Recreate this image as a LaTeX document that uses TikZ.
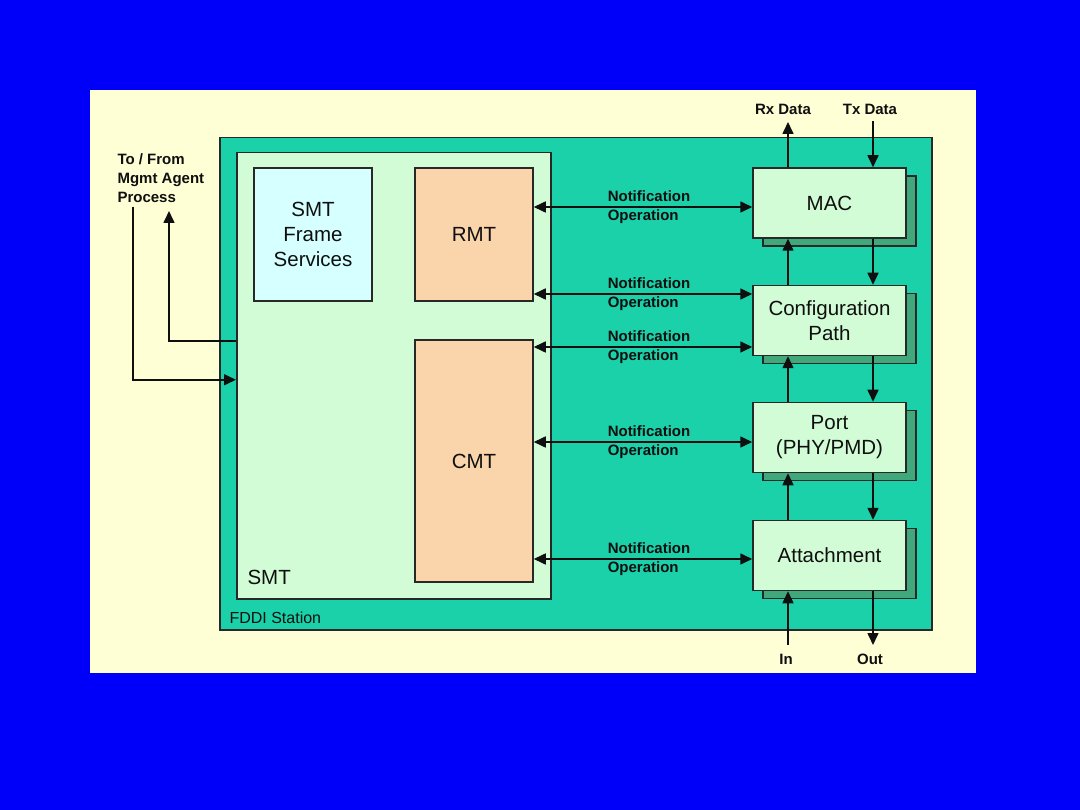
\documentclass[tikz,border=0pt]{standalone}
\usepackage{fontspec}
\setmainfont{Liberation Sans}
\usetikzlibrary{arrows.meta,calc,shadows}
\definecolor{slideblue}{RGB}{0,0,250}
\definecolor{panel}{RGB}{255,255,214}
\definecolor{station}{RGB}{26,209,169}
\definecolor{smtgreen}{RGB}{210,252,214}
\definecolor{sfscyan}{RGB}{214,255,255}
\definecolor{peach}{RGB}{250,212,170}
\definecolor{shadowgreen}{RGB}{64,168,122}
\definecolor{edge}{RGB}{40,40,40}
\definecolor{ink}{RGB}{15,15,15}
\newcommand{\boxfont}{\fontsize{20.5}{25}\selectfont}
\newcommand{\lblfont}{\fontsize{15}{19}\selectfont\bfseries}

\begin{document}
\begin{tikzpicture}[x=1pt,y=-1pt,
    block/.style={draw=edge, line width=1.5pt, font=\boxfont, align=center, inner sep=0pt, text=ink},
    shadowbox/.style={block, fill=smtgreen, minimum width=153pt, minimum height=70pt,
        general shadow={shadow xshift=10pt, shadow yshift=-8pt, fill=shadowgreen, draw=edge, line width=1.5pt}},
    wire/.style={draw=ink, line width=1.6pt},
    arr/.style={wire, -{Triangle[length=12pt,width=11pt]}},
    biarr/.style={wire, {Triangle[length=12pt,width=11pt]}-{Triangle[length=12pt,width=11pt]}},
    note/.style={font=\lblfont, align=left, xshift=6pt, text=ink}]
    % Background
    \fill[slideblue] (0,0) rectangle (1080,810);
    \fill[panel] (90,90) rectangle (976,673);

    % FDDI station and SMT
    \node[block, fill=station, minimum width=712pt, minimum height=492pt, anchor=north west] (fddi) at (219,137) {};
    \node[font=\fontsize{16}{19}\selectfont, anchor=west, text=ink] (fddilbl) at (226,618) {FDDI Station};
    \node[block, fill=smtgreen, minimum width=314pt, minimum height=446pt, anchor=north west] (smt) at (236,152) {};
    \node[font=\boxfont, anchor=west, text=ink] (smtlbl) at (244,577) {SMT};

    % SMT parts
    \node[block, fill=sfscyan, minimum width=118pt, minimum height=133pt] (sfs) at (313,234.5) {SMT\\Frame\\Services};
    \node[block, fill=peach, minimum width=118pt, minimum height=133pt] (rmt) at (474,234.5) {RMT};
    \node[block, fill=peach, minimum width=118pt, minimum height=242pt] (cmt) at (474,461) {CMT};

    % Station blocks
    \node[shadowbox] (mac) at (829.5,203) {MAC};
    \node[shadowbox] (cfg) at (829.5,320.5) {Configuration\\Path};
    \node[shadowbox] (port) at (829.5,437.5) {Port\\(PHY/PMD)};
    \node[shadowbox] (att) at (829.5,555.5) {Attachment};

    % Data path
    \coordinate (rx) at (788,122);
    \coordinate (tx) at (873,121);
    \coordinate (in) at (788,645);
    \coordinate (out) at (873,645);
    \node[font=\lblfont, text=ink] (rxlbl) at (783,109) {Rx Data};
    \node[font=\lblfont, text=ink] (txlbl) at (870,109) {Tx Data};
    \node[font=\lblfont, text=ink] (inlbl) at (786,659) {In};
    \node[font=\lblfont, text=ink] (outlbl) at (870,659) {Out};
    \draw[arr] (mac.north -| rx) -- (rx);
    \draw[arr] (tx) -- (mac.north -| tx);
    \foreach \a/\b in {mac/cfg,cfg/port,port/att} {
        \draw[arr] (\b.north -| rx) -- (\a.south -| rx);
        \draw[arr] (\a.south -| tx) -- (\b.north -| tx);
    }
    \draw[arr] (in) -- (att.south -| in);
    \draw[arr] (att.south -| out) -- (out);

    % Notification / Operation
    \foreach \s/\t/\yy [count=\i] in {rmt/mac/207, rmt/cfg/294, cmt/cfg/347, cmt/port/442, cmt/att/559} {
        \coordinate (n\i) at (643,\yy);
        \draw[biarr] (\s.east |- n\i) -- node[note] {Notification\\Operation} (\t.west |- n\i);
    }

    % Management agent
    \node[font=\lblfont, align=left, anchor=west, text=ink] (mgmt) at (114,178) {To / From\\Mgmt Agent\\Process};
    \coordinate (mgin) at (133,207);
    \coordinate (mgout) at (169,211);
    \draw[arr] (mgin) |- ([yshift=-4pt]smt.west);
    \draw[arr] ([yshift=35pt]smt.west) -| (mgout);
\end{tikzpicture}
\end{document}
